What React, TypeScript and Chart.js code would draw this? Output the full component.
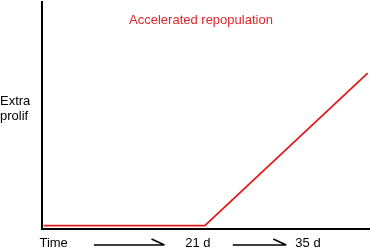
import React, { useEffect, useRef } from "react";
import { Chart, registerables } from "chart.js";

Chart.register(...registerables);

// Data (x in days, y in relative units 0-100)
const seriesDays = [0.2, 21, 42];
const seriesValues = [1.5, 1.5, 68.7];

const xTickValues = [1.5, 20.1, 34.3];
const xTickLabels = ["Time", "21 d", "35 d"];

const yTickValues = [53];
const yTickLabels = [["Extra", "prolif"]];

const arrowStarts = [6.7, 24.6];
const arrowEnds = [15.8, 31.5];

const titleText = "Accelerated repopulation";

const FONT = "'Liberation Sans', Arial, Helvetica, sans-serif";
const RED = "#e3191c";
const TITLE_RED = "#e0262a";

const overlayPlugin = {
  id: "overlay",
  afterDraw(chart: any) {
    const { ctx, chartArea, scales } = chart;
    const xs = scales.x;
    ctx.save();
    // title
    ctx.fillStyle = TITLE_RED;
    ctx.font = `13px ${FONT}`;
    ctx.textAlign = "center";
    ctx.textBaseline = "middle";
    ctx.fillText(titleText, xs.getPixelForValue(20.5), chartArea.top + 18);
    // arrows
    ctx.strokeStyle = "#000";
    ctx.lineWidth = 1.5;
    const y = chartArea.bottom + 16;
    for (let i = 0; i < arrowStarts.length; i++) {
      const x0 = xs.getPixelForValue(arrowStarts[i]);
      const x1 = xs.getPixelForValue(arrowEnds[i]);
      ctx.beginPath();
      ctx.moveTo(x0, y);
      ctx.lineTo(x1, y);
      ctx.moveTo(x1 - 13, y - 6);
      ctx.lineTo(x1, y);
      ctx.stroke();
    }
    ctx.restore();
  },
};

export default function App() {
  const ref = useRef<HTMLCanvasElement | null>(null);
  useEffect(() => {
    if (!ref.current) return;
    const chart = new Chart(ref.current, {
      type: "line",
      data: {
        datasets: [
          {
            data: seriesDays.map((d, i) => ({ x: d, y: seriesValues[i] })),
            borderColor: RED,
            borderWidth: 1.8,
            pointRadius: 0,
            tension: 0,
            fill: false,
          },
        ],
      },
      options: {
        animation: false,
        responsive: false,
        layout: { padding: { top: 2, right: 0, left: 0, bottom: 0 } },
        plugins: {
          legend: { display: false },
          tooltip: { enabled: false },
          title: { display: false },
        },
        scales: {
          x: {
            type: "linear",
            min: 0,
            max: 42.3,
            grid: { display: false, drawTicks: false },
            border: { display: true, color: "#000", width: 2 },
            afterBuildTicks: (scale: any) => {
              scale.ticks = xTickValues.map((v) => ({ value: v }));
            },
            afterFit: (scale: any) => {
              scale.height = 23;
              scale.paddingLeft = 0;
              scale.paddingRight = 0;
            },
            ticks: {
              autoSkip: false,
              maxRotation: 0,
              padding: 7,
              color: "#000",
              font: { family: FONT, size: 13 },
              callback: (v: any) => {
                const i = xTickValues.indexOf(Number(v));
                return i >= 0 ? xTickLabels[i] : "";
              },
            },
          },
          y: {
            type: "linear",
            min: 0,
            max: 100,
            grid: { display: false, drawTicks: false },
            border: { display: true, color: "#000", width: 2 },
            afterBuildTicks: (scale: any) => {
              scale.ticks = yTickValues.map((v) => ({ value: v }));
            },
            afterFit: (scale: any) => {
              scale.width = 42;
              scale.paddingTop = 0;
              scale.paddingBottom = 0;
            },
            ticks: {
              autoSkip: false,
              crossAlign: "far",
              color: "#000",
              font: { family: FONT, size: 13, lineHeight: 1.15 },
              callback: (v: any) => {
                const i = yTickValues.indexOf(Number(v));
                return i >= 0 ? yTickLabels[i] : "";
              },
            },
          },
        },
      },
      plugins: [overlayPlugin],
    } as any);
    return () => chart.destroy();
  }, []);
  return (
    <div style={{ position: "absolute", left: 0, top: 0, width: 370, height: 252, background: "#fff" }}>
      <canvas ref={ref} width={370} height={252} />
    </div>
  );
}
